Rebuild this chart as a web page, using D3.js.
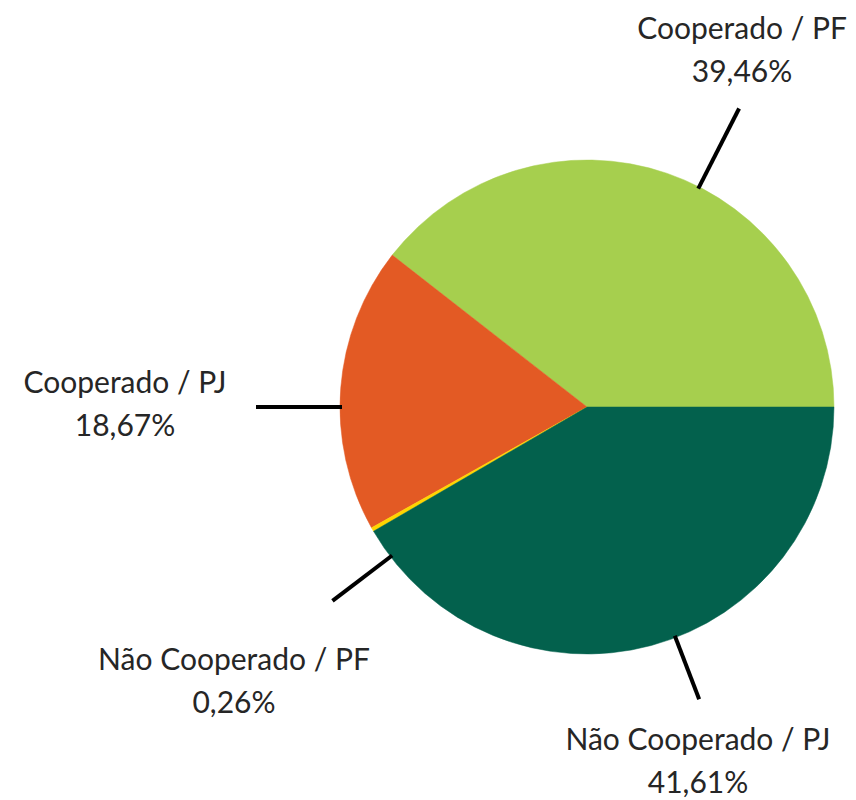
<!DOCTYPE html>
<html>
<head>
<meta charset="utf-8">
<script src="https://cdn.jsdelivr.net/npm/d3@7"></script>
<style>
    html, body { margin: 0; padding: 0; background: #fff; }
    .slice-label { font-family: Lato, "Open Sans", sans-serif; font-weight: 400; font-size: 30px; fill: #262626; }
</style>
</head>
<body>
<div id="chart"></div>
<script>
// ===== Data =====
const categories = ['Cooperado / PF', 'Cooperado / PJ', 'Não Cooperado / PF', 'Não Cooperado / PJ'];
const shares = [39.46, 18.67, 0.26, 41.61];
const shareLabels = ['39,46%', '18,67%', '0,26%', '41,61%'];
const colors = ['#a6cf4e', '#e35a24', '#ffd500', '#03614d'];

// ===== Layout (label placement) =====
const W = 856, H = 800;
const cx = 587, cy = 407, radius = 247;
// leader line angle (deg, counterclockwise from 3 o'clock), outer radius, label anchor
const labelLayout = [
    { angle: 63, outer: 335, x: 742, y: 39 },
    { angle: 180, outer: 331, x: 125, y: 393 },
    { angle: 217.3, outer: 320, x: 234, y: 670 },
    { angle: 291, outer: 313, x: 698, y: 750 }
];
const lineGap = 43;

const svg = d3.select('#chart').append('svg')
    .attr('width', W)
    .attr('height', H);

const g = svg.append('g').attr('transform', `translate(${cx},${cy})`);

// pie runs counterclockwise from 3 o'clock
const pie = d3.pie()
    .sort(null)
    .value(d => d.value)
    .startAngle(Math.PI / 2)
    .endAngle(Math.PI / 2 - 2 * Math.PI);

const arc = d3.arc().innerRadius(0).outerRadius(radius);

const data = categories.map((c, i) => ({ name: c, value: shares[i], color: colors[i] }));

g.selectAll('path.slice')
    .data(pie(data))
    .enter()
    .append('path')
    .attr('class', 'slice')
    .attr('d', arc)
    .attr('fill', d => d.data.color)
    .attr('stroke', d => d.data.color)
    .attr('stroke-width', 0.5);

// Leader lines
labelLayout.forEach(l => {
    const a = l.angle * Math.PI / 180;
    g.append('line')
        .attr('x1', Math.cos(a) * (radius - 2))
        .attr('y1', -Math.sin(a) * (radius - 2))
        .attr('x2', Math.cos(a) * l.outer)
        .attr('y2', -Math.sin(a) * l.outer)
        .attr('stroke', '#000')
        .attr('stroke-width', 4);
});

// Labels
labelLayout.forEach((l, i) => {
    const t = svg.append('text')
        .attr('class', 'slice-label')
        .attr('text-anchor', 'middle');
    t.append('tspan').attr('x', l.x).attr('y', l.y).text(categories[i]);
    t.append('tspan').attr('x', l.x).attr('y', l.y + lineGap).text(shareLabels[i]);
});
</script>
</body>
</html>
